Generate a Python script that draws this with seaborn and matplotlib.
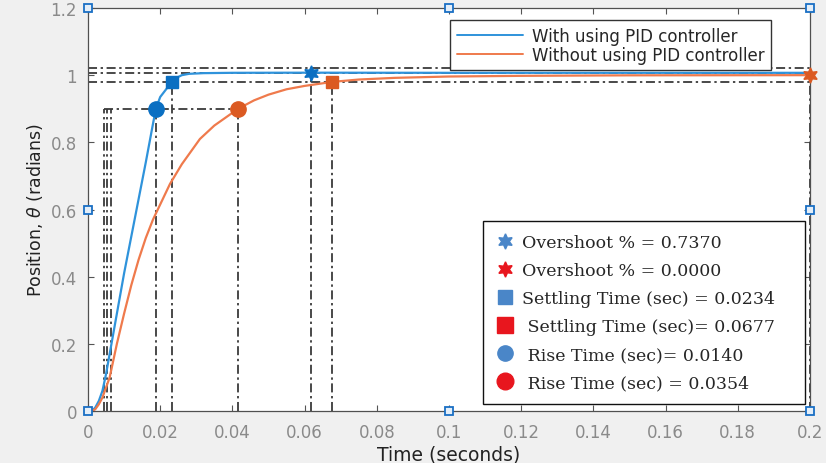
import numpy as np
import pandas as pd
import matplotlib
matplotlib.use("Agg")
import matplotlib.pyplot as plt
import seaborn as sns
from matplotlib.lines import Line2D

# ---------------- data ----------------
series_names = ["With using PID controller", "Without using PID controller"]

t_pid = [0, 0.001, 0.002, 0.003, 0.004, 0.005, 0.006, 0.008, 0.010, 0.012,
         0.014, 0.016, 0.018, 0.0188, 0.020, 0.022, 0.0234, 0.0245, 0.026,
         0.028, 0.032, 0.040, 0.050, 0.0619, 0.080, 0.100, 0.140, 0.200]
pos_pid = [0, 0.0, 0.01, 0.03, 0.06, 0.11, 0.17, 0.29, 0.41, 0.52,
           0.63, 0.74, 0.855, 0.90, 0.935, 0.963, 0.98, 0.992, 1.0,
           1.004, 1.006, 1.007, 1.0072, 1.0074, 1.0072, 1.007, 1.007, 1.007]

t_nopid = [0, 0.001, 0.002, 0.003, 0.004, 0.005, 0.006, 0.008, 0.010, 0.012,
           0.014, 0.016, 0.018, 0.020, 0.0227, 0.026, 0.031, 0.035, 0.0416,
           0.046, 0.050, 0.055, 0.060, 0.0677, 0.075, 0.085, 0.100, 0.120,
           0.150, 0.200]
pos_nopid = [0, 0.0, 0.005, 0.02, 0.04, 0.07, 0.10, 0.20, 0.29, 0.375,
             0.45, 0.515, 0.57, 0.615, 0.676, 0.735, 0.81, 0.85, 0.90,
             0.925, 0.942, 0.958, 0.968, 0.98, 0.987, 0.992, 0.996, 0.998,
             0.9995, 1.0]

# characteristic points: (time, value)
rise_pid = (0.0188, 0.90)
settle_pid = (0.0234, 0.98)
peak_pid = (0.0619, 1.0074)
rise_nopid = (0.0416, 0.90)
settle_nopid = (0.0677, 0.98)
peak_nopid = (0.200, 1.000)
rise_start_times = [0.0044, 0.0053, 0.0064]
rise_level = 0.90
band_levels = [1.02, 1.0074, 0.98]

info_labels = ["Overshoot % = 0.7370", "Overshoot % = 0.0000",
               "Settling Time (sec) = 0.0234", " Settling Time (sec)= 0.0677",
               " Rise Time (sec)= 0.0140", " Rise Time (sec) = 0.0354"]

xtick_vals = [0, 0.02, 0.04, 0.06, 0.08, 0.10, 0.12, 0.14, 0.16, 0.18, 0.20]
xtick_labels = ["0", "0.02", "0.04", "0.06", "0.08", "0.1", "0.12", "0.14",
                "0.16", "0.18", "0.2"]
ytick_vals = [0, 0.2, 0.4, 0.6, 0.8, 1.0, 1.2]
ytick_labels = ["0", "0.2", "0.4", "0.6", "0.8", "1", "1.2"]

# edit handles (MATLAB selection squares)
handle_x = [0, 0, 0, 0.1, 0.2, 0.2, 0.2, 0.1]
handle_y = [0, 0.6, 1.2, 1.2, 1.2, 0.6, 0, 0]

# ---------------- style ----------------
sns.set_style("ticks")
plt.rcParams["font.family"] = ["DejaVu Sans"]

c_blue = "#2f93db"
c_orange = "#ef7a4c"
m_blue = "#0a6fc2"
m_orange = "#db5a22"
refc = "#3a3a3a"
dashdot = (0, (5, 2, 1.3, 2))

df = pd.DataFrame({
    "Time": t_pid + t_nopid,
    "Position": pos_pid + pos_nopid,
    "Series": [series_names[0]] * len(t_pid) + [series_names[1]] * len(t_nopid),
})

fig = plt.figure(figsize=(8.26, 4.64), dpi=100, facecolor="#f0f0f0")
ax = fig.add_axes([88 / 826, 1 - 412 / 464, 722 / 826, 403 / 464])
ax.set_facecolor("white")

# reference dash-dot lines
for tt in rise_start_times:
    ax.vlines(tt, 0, rise_level, colors=refc, linestyles=dashdot, lw=1.3, zorder=1.5)
ax.hlines(rise_level, rise_start_times[0], rise_nopid[0], colors=refc,
          linestyles=dashdot, lw=1.3, zorder=1.5)
for pt in [rise_pid, settle_pid, peak_pid, rise_nopid, settle_nopid, peak_nopid]:
    ax.vlines(pt[0], 0, pt[1], colors=refc, linestyles=dashdot, lw=1.3, zorder=1.5)
for lv in band_levels:
    ax.hlines(lv, 0, 0.2, colors=refc, linestyles=dashdot, lw=1.3, zorder=1.5)

# curves
sns.lineplot(data=df, x="Time", y="Position", hue="Series",
             palette=[c_blue, c_orange], linewidth=1.6, estimator=None,
             sort=False, ax=ax, zorder=2, legend=True)

# characteristic markers
star = (6, 1, 0)
ax.plot(*rise_pid, marker="o", ms=11, color=m_blue, ls="none", zorder=4)
ax.plot(*settle_pid, marker="s", ms=9, color=m_blue, ls="none", zorder=4)
ax.plot(*peak_pid, marker=star, ms=11, color=m_blue, ls="none", zorder=4)
ax.plot(*rise_nopid, marker="o", ms=11, color=m_orange, ls="none", zorder=4)
ax.plot(*settle_nopid, marker="s", ms=9, color=m_orange, ls="none", zorder=4)
ax.plot(*peak_nopid, marker=star, ms=11, color=m_orange, ls="none", zorder=4,
        clip_on=False)

# selection handles
ax.plot(handle_x, handle_y, ls="none", marker="s", ms=5.5, mfc="#e4eef8",
        mec="#1a6fc4", mew=1.3, clip_on=False, zorder=6)

# axes formatting
ax.set_xlim(0, 0.2)
ax.set_ylim(0, 1.2)
ax.set_xticks(xtick_vals)
ax.set_xticklabels(xtick_labels)
ax.set_yticks(ytick_vals)
ax.set_yticklabels(ytick_labels)
ax.tick_params(direction="in", length=4, top=True, right=True, labelsize=12,
               labelcolor="#8a8a8a", color="#555555", width=0.8)
ax.tick_params(axis="x", pad=9)
ax.tick_params(axis="y", pad=8)
for s in ax.spines.values():
    s.set_color("#505050")
    s.set_linewidth(0.9)
    s.set_visible(True)

ax.set_xlabel("Time (seconds)", fontsize=13.5, color="#222222", labelpad=2)
ax.set_ylabel(r"Position, $\theta$ (radians)", fontsize=12.5, color="#222222",
              labelpad=4)

# legend 1 (series)
h, l = ax.get_legend_handles_labels()
leg1 = ax.legend(h, l, loc="upper right", bbox_to_anchor=(0.946, 0.970),
                 fontsize=12, frameon=True, fancybox=False, edgecolor="#333333",
                 framealpha=1, handlelength=4.0, handletextpad=0.5,
                 borderpad=0.4, labelspacing=0.05, borderaxespad=0)
leg1.get_frame().set_linewidth(1.0)
for line in leg1.get_lines():
    line.set_linewidth(1.4)
ax.add_artist(leg1)

# legend 2 (performance info)
lb = "#4a86c8"
lr = "#e8161e"
info_handles = [
    Line2D([], [], ls="none", marker=star, ms=11, color=lb),
    Line2D([], [], ls="none", marker=star, ms=11, color=lr),
    Line2D([], [], ls="none", marker="s", ms=10, color=lb),
    Line2D([], [], ls="none", marker="s", ms=11, color=lr),
    Line2D([], [], ls="none", marker="o", ms=11, color=lb),
    Line2D([], [], ls="none", marker="o", ms=12, color=lr),
]
leg2 = ax.legend(info_handles, info_labels, loc="lower left",
                 bbox_to_anchor=(0.547, 0.017, 0.446, 0.44), mode="expand",
                 prop={"family": "DejaVu Serif", "size": 12.5},
                 frameon=True, fancybox=False, edgecolor="#111111", framealpha=1,
                 handlelength=1.0, handletextpad=0.5, borderpad=0.75,
                 labelspacing=0.63, borderaxespad=0)
leg2.get_frame().set_linewidth(1.0)

fig.savefig("out.png", dpi=100, facecolor=fig.get_facecolor())
